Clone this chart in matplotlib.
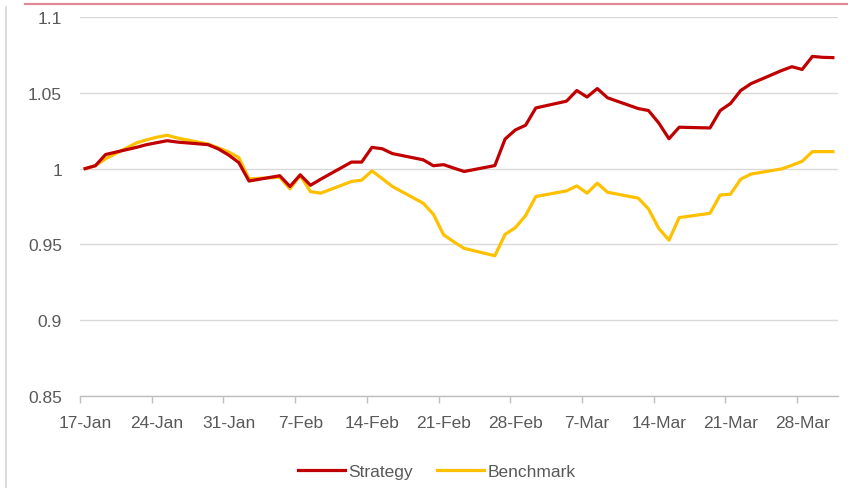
import matplotlib
matplotlib.use("Agg")
import matplotlib.pyplot as plt
import matplotlib.dates as mdates
from matplotlib.lines import Line2D
import datetime as dt

plt.rcParams['font.family'] = ['Liberation Sans', 'DejaVu Sans']

dates = ["2018-01-17", "2018-01-18", "2018-01-19", "2018-01-22", "2018-01-23", "2018-01-24",
         "2018-01-25", "2018-01-26", "2018-01-29", "2018-01-30", "2018-01-31", "2018-02-01",
         "2018-02-02", "2018-02-05", "2018-02-06", "2018-02-07", "2018-02-08", "2018-02-09",
         "2018-02-12", "2018-02-13", "2018-02-14", "2018-02-15", "2018-02-16", "2018-02-19",
         "2018-02-20", "2018-02-21", "2018-02-22", "2018-02-23", "2018-02-26", "2018-02-27",
         "2018-02-28", "2018-03-01", "2018-03-02", "2018-03-05", "2018-03-06", "2018-03-07",
         "2018-03-08", "2018-03-09", "2018-03-12", "2018-03-13", "2018-03-14", "2018-03-15",
         "2018-03-16", "2018-03-19", "2018-03-20", "2018-03-21", "2018-03-22", "2018-03-23",
         "2018-03-26", "2018-03-27", "2018-03-28", "2018-03-29", "2018-03-30", "2018-03-31"]

strategy = [1.000, 1.0019, 1.0093, 1.0140, 1.0158, 1.0171,
            1.0184, 1.0175, 1.0158, 1.0130, 1.0090, 1.0040,
            0.9918, 0.9953, 0.9882, 0.9959, 0.9890, 0.9930,
            1.0043, 1.0043, 1.0140, 1.0131, 1.0099, 1.0058,
            1.0019, 1.0026, 1.0003, 0.9981, 1.0020, 1.0195,
            1.0255, 1.0286, 1.0400, 1.0445, 1.0515, 1.0472,
            1.0528, 1.0467, 1.0396, 1.0383, 1.0301, 1.0197,
            1.0273, 1.0268, 1.0383, 1.0429, 1.0515, 1.0560,
            1.0647, 1.0672, 1.0654, 1.0740, 1.0734, 1.0732]

benchmark = [1.000, 1.0019, 1.0065, 1.0169, 1.0190, 1.0207,
             1.0220, 1.0202, 1.0162, 1.0137, 1.0110, 1.0073,
             0.9932, 0.9943, 0.9866, 0.9955, 0.9848, 0.9838,
             0.9915, 0.9924, 0.9985, 0.9934, 0.9882, 0.9772,
             0.9699, 0.9563, 0.9517, 0.9474, 0.9425, 0.9566,
             0.9610, 0.9690, 0.9816, 0.9853, 0.9886, 0.9838,
             0.9904, 0.9844, 0.9805, 0.9734, 0.9606, 0.9528,
             0.9677, 0.9705, 0.9826, 0.9831, 0.9930, 0.9964,
             0.9998, 1.0022, 1.0048, 1.0112, 1.0112, 1.0112]

xtick_dates = ["2018-01-17", "2018-01-24", "2018-01-31", "2018-02-07", "2018-02-14", "2018-02-21",
               "2018-02-28", "2018-03-07", "2018-03-14", "2018-03-21", "2018-03-28"]
xtick_labels = ["17-Jan", "24-Jan", "31-Jan", "7-Feb", "14-Feb", "21-Feb",
                "28-Feb", "7-Mar", "14-Mar", "21-Mar", "28-Mar"]
yticks = [0.85, 0.9, 0.95, 1.0, 1.05, 1.1]
ytick_labels = ["0.85", "0.9", "0.95", "1", "1.05", "1.1"]

x = mdates.date2num([dt.date.fromisoformat(d) for d in dates])
xt = mdates.date2num([dt.date.fromisoformat(d) for d in xtick_dates])

W, H = 848, 489
fig = plt.figure(figsize=(W / 100, H / 100), dpi=100)
ax = fig.add_axes([80 / W, 1 - 397 / H, (838 - 80) / W, (397 - 18) / H])

red = "#C00000"
yel = "#FFC000"
grid_c = "#D9D9D9"
txt_c = "#595959"

ax.plot(x, benchmark, color=yel, lw=2.3, solid_joinstyle='round', zorder=3)
ax.plot(x, strategy, color=red, lw=2.3, solid_joinstyle='round', zorder=4)

ax.set_xlim(x[0] - 0.5, x[-1] + 0.5)
ax.set_ylim(0.85, 1.1)
ax.set_yticks(yticks)
ax.set_yticklabels(ytick_labels)
ax.set_xticks(xt)
ax.set_xticklabels(xtick_labels)
ax.set_xticks(xt - 0.5, minor=True)

for s in ['top', 'right', 'left']:
    ax.spines[s].set_visible(False)
ax.spines['bottom'].set_color("#BFBFBF")
ax.spines['bottom'].set_linewidth(1.0)
ax.spines['bottom'].set_zorder(2)

ax.grid(axis='y', color=grid_c, lw=1.0, zorder=1)
ax.set_axisbelow(True)

ax.tick_params(axis='y', length=0, pad=13, labelsize=12.5, labelcolor=txt_c)
ax.tick_params(axis='x', which='major', length=0, pad=14, labelsize=12.5, labelcolor=txt_c)
ax.tick_params(axis='x', which='minor', length=5, width=1.0, color="#BFBFBF", direction='out')

handles = [Line2D([], [], color=red, lw=2.3), Line2D([], [], color=yel, lw=2.3)]
fig.legend(handles, ["Strategy", "Benchmark"], loc='center', bbox_to_anchor=(437 / W, 1 - 472 / H),
           ncol=2, frameon=False, fontsize=12.5, labelcolor=txt_c, handlelength=2.7,
           handletextpad=0.2, columnspacing=1.4)

# frame artifacts from the reference screenshot
fig.add_artist(Line2D([25 / W, 1.0], [1 - 5 / H, 1 - 5 / H], color="#E08A98", lw=1.6,
                      transform=fig.transFigure))
fig.add_artist(Line2D([6 / W, 6 / W], [0, 1 - 8 / H], color="#D6D6D6", lw=1.2,
                      transform=fig.transFigure))

fig.savefig("out.png", dpi=100)
